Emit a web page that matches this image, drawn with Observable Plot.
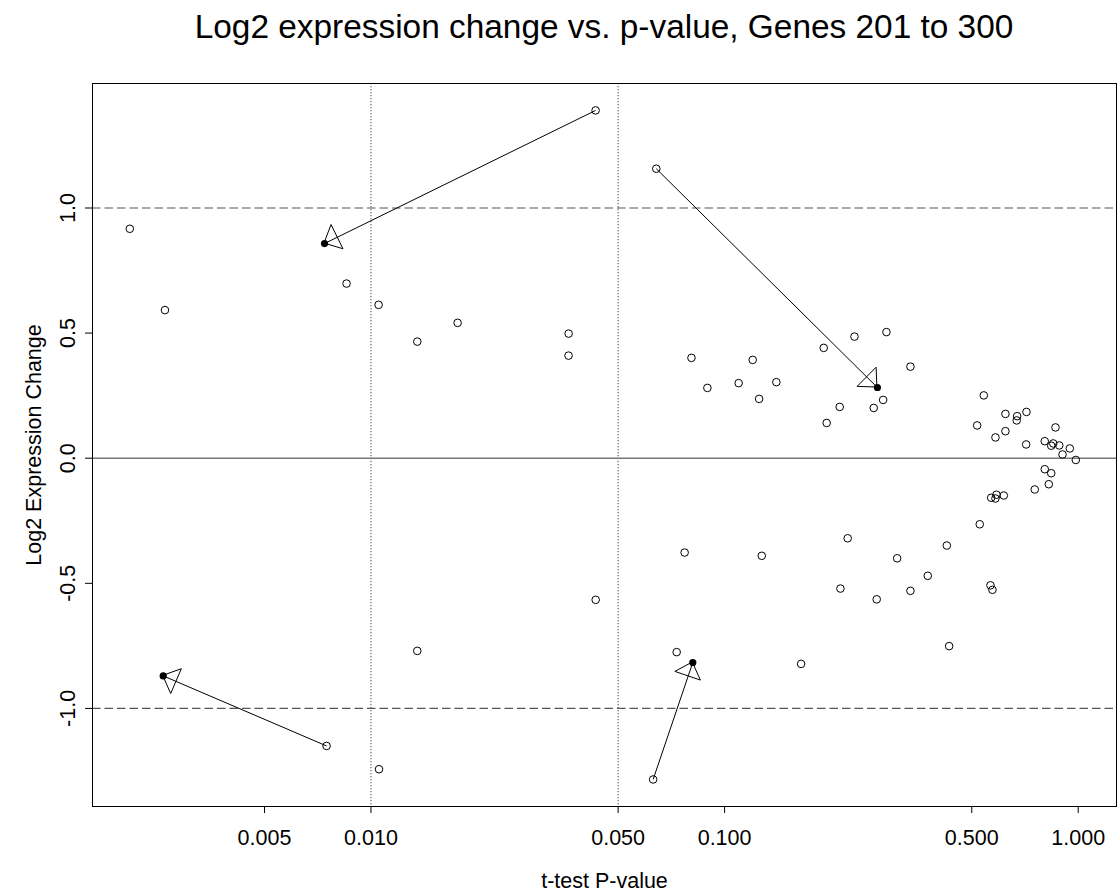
<!DOCTYPE html>
<html>
<head>
<meta charset="utf-8">
<script src="https://cdn.jsdelivr.net/npm/d3@7"></script>
<script src="https://cdn.jsdelivr.net/npm/@observablehq/plot@0.6"></script>
<style>
  html, body { margin: 0; padding: 0; background: #fff; }
  #title {
    width: 1117px; height: 60px; box-sizing: border-box;
    padding: 10px 1px 0 92px;
    font: 33.4px/33px "Liberation Sans", Arial, Helvetica, sans-serif;
    text-align: center; color: #000; white-space: nowrap;
  }
  svg { display: block; }
</style>
</head>
<body>
<div id="title">Log2 expression change vs. p-value, Genes 201 to 300</div>
<script>
// t-test p-values and log2 expression changes, one entry per gene
const pValues = [
  0.00208, 0.002615, 0.00853, 0.01051, 0.01352, 0.01758, 0.03622, 0.0362,
  0.04318, 0.0641, 0.0806, 0.0894, 0.1096, 0.1201, 0.1252, 0.1401,
  0.1907, 0.1944, 0.2116, 0.2330, 0.2641, 0.2808, 0.2869, 0.3354,
  0.5179, 0.5408, 0.5835, 0.6226, 0.6226, 0.672, 0.670, 0.714,
  0.7126, 0.8043, 0.8388, 0.850, 0.8626, 0.8838, 0.9029, 0.9467,
  0.9845, 0.8043, 0.8388, 0.8257, 0.7537, 0.5674, 0.5835, 0.5873,
  0.616, 0.5267, 0.4251, 0.2229, 0.1274, 0.3076, 0.3755, 0.2126,
  0.2693, 0.3354, 0.5648, 0.5721, 0.4316, 0.1646, 0.0771, 0.0432,
  0.01352, 0.0732, 0.0628, 0.01054, 0.00749
];
const logChange = [
  0.917, 0.592, 0.698, 0.613, 0.466, 0.541, 0.498, 0.410,
  1.390, 1.157, 0.401, 0.281, 0.300, 0.393, 0.237, 0.304,
  0.441, 0.141, 0.205, 0.486, 0.201, 0.233, 0.504, 0.366,
  0.131, 0.251, 0.083, 0.177, 0.108, 0.168, 0.151, 0.185,
  0.055, 0.068, 0.050, 0.059, 0.123, 0.051, 0.015, 0.039,
  -0.007, -0.044, -0.060, -0.104, -0.125, -0.158, -0.161, -0.146,
  -0.149, -0.264, -0.349, -0.320, -0.390, -0.400, -0.470, -0.521,
  -0.564, -0.530, -0.508, -0.526, -0.751, -0.822, -0.377, -0.566,
  -0.770, -0.775, -1.284, -1.243, -1.150
];

// Highlighted genes: where each one starts and where it moves to
const fromP      = [0.04318, 0.0641, 0.00749, 0.0628];
const fromChange = [1.390, 1.157, -1.150, -1.284];
const toP        = [0.00739, 0.2705, 0.002585, 0.0813];
const toChange   = [0.858, 0.2826, -0.870, -0.8165];

// Axis ticks and reference cut-offs
const pTicks = [0.005, 0.01, 0.05, 0.1, 0.5, 1];
const changeTicks = [-1, -0.5, 0, 0.5, 1];
const pCutoffs = [0.01, 0.05];
const changeCutoffs = [-1, 1];

const genes = pValues.map((p, i) => ({p, change: logChange[i]}));
const moves = fromP.map((p, i) => ({
  fromP: p, fromChange: fromChange[i], toP: toP[i], toChange: toChange[i]
}));

// Open triangular head at the end of each arrow, drawn in screen space
const headLength = 14.5;
const headHalfWidth = 13.5;
function arrowHeads(index, scales) {
  const g = d3.create("svg:g")
    .attr("fill", "none")
    .attr("stroke", "black")
    .attr("stroke-width", 1);
  for (const m of moves) {
    const x1 = scales.x(m.fromP), y1 = scales.y(m.fromChange);
    const x2 = scales.x(m.toP), y2 = scales.y(m.toChange);
    const len = Math.hypot(x2 - x1, y2 - y1);
    const ux = (x2 - x1) / len, uy = (y2 - y1) / len;
    const bx = x2 - ux * headLength, by = y2 - uy * headLength;
    const path = d3.path();
    path.moveTo(x2, y2);
    path.lineTo(bx - uy * headHalfWidth, by + ux * headHalfWidth);
    path.lineTo(bx + uy * headHalfWidth, by - ux * headHalfWidth);
    path.closePath();
    g.append("path").attr("d", path.toString());
  }
  return g.node();
}

const chart = Plot.plot({
  width: 1117,
  height: 831,
  marginLeft: 92,
  marginRight: 1,
  marginTop: 23,
  marginBottom: 85,
  x: {type: "log", domain: [0.0016314, 1.2832]},
  y: {domain: [-1.392, 1.4976]},
  style: {
    fontFamily: "'Liberation Sans', Arial, Helvetica, sans-serif",
    fontSize: "21.5px",
    background: "white",
    color: "black"
  },
  marks: [
    Plot.ruleX(pCutoffs, {stroke: "#666", strokeWidth: 1.2, strokeDasharray: "1.2,1.8"}),
    Plot.ruleY(changeCutoffs, {stroke: "#555", strokeWidth: 1.2, strokeDasharray: "8.5,4"}),
    Plot.ruleY([0], {stroke: "#777", strokeWidth: 1.5}),
    Plot.link(moves, {x1: "fromP", y1: "fromChange", x2: "toP", y2: "toChange", stroke: "black", strokeWidth: 1}),
    Plot.dot(genes, {x: "p", y: "change", r: 3.8, stroke: "black", strokeWidth: 1, fill: "none"}),
    arrowHeads,
    Plot.dot(moves, {x: "toP", y: "toChange", r: 3.6, fill: "black", stroke: "none"}),
    Plot.frame({stroke: "black", strokeWidth: 1}),
    // tick marks only; the labels are written below so that every tick keeps its label
    Plot.axisX({ticks: pTicks, tickSize: 7, tickFormat: () => "", label: null}),
    Plot.text(pTicks, {
      x: d => d, text: d => d.toFixed(3),
      frameAnchor: "bottom", dy: 23, lineAnchor: "top",
      fontSize: 21.5, fill: "black"
    }),
    Plot.axisY({
      ticks: changeTicks,
      tickFormat: d => d.toFixed(1),
      tickSize: 7,
      tickPadding: 10.5,
      tickRotate: -90,
      fontSize: 21.5,
      label: null
    }),
    Plot.text(["t-test P-value"], {
      frameAnchor: "bottom", dy: 81, lineAnchor: "bottom",
      fontSize: 21.5, fill: "black"
    }),
    Plot.text(["Log2 Expression Change"], {
      frameAnchor: "left", dx: -51.3, rotate: -90, lineAnchor: "bottom",
      textAnchor: "middle", fontSize: 21.5, fill: "black"
    })
  ]
});

document.body.appendChild(chart);
</script>
</body>
</html>
